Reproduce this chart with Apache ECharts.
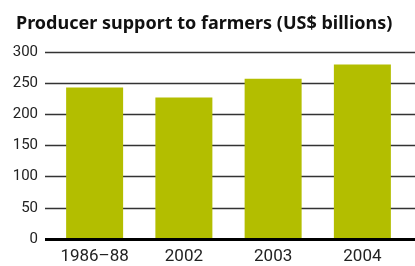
<!DOCTYPE html>
<html>
<head>
<meta charset="utf-8">
<script src="https://cdn.jsdelivr.net/npm/echarts@6/dist/echarts.min.js"></script>
<style>
html,body{margin:0;padding:0;background:#fff;}
#chart{width:415px;height:266px;}
</style>
</head>
<body>
<div id="chart"></div>
<script>
var categories = ['1986–88', '2002', '2003', '2004'];
var support = [243, 227, 257, 280];
var yTicks = [0, 50, 100, 150, 200, 250, 300];

var chart = echarts.init(document.getElementById('chart'));
var option = {
    animation: false,
    title: {
        text: 'Producer support to farmers (US$ billions)',
        left: 11,
        top: 10,
        textStyle: {
            fontFamily: 'Noto Sans',
            fontWeight: 'bold',
            fontSize: 18,
            color: '#111'
        }
    },
    // grid 0 carries gridlines and y labels, grid 1 carries the bars
    grid: [
        {left: 45, right: 0, top: 52, bottom: 27},
        {left: 50, right: 8, top: 52, bottom: 27}
    ],
    xAxis: [{
        gridIndex: 0,
        type: 'category',
        data: categories,
        show: false
    }, {
        gridIndex: 1,
        type: 'category',
        data: categories,
        axisLine: {show: false},
        axisTick: {show: false},
        axisLabel: {
            fontFamily: 'Roboto',
            fontSize: 17,
            color: '#222',
            margin: 9
        }
    }],
    yAxis: [{
        gridIndex: 0,
        type: 'value',
        min: yTicks[0],
        max: yTicks[yTicks.length - 1],
        interval: 50,
        axisLine: {show: false},
        axisTick: {show: false},
        axisLabel: {
            fontFamily: 'Roboto',
            fontSize: 15,
            color: '#222',
            margin: 7
        },
        splitLine: {lineStyle: {color: '#333', width: 1.3}}
    }, {
        gridIndex: 1,
        type: 'value',
        min: yTicks[0],
        max: yTicks[yTicks.length - 1],
        interval: 50,
        show: false
    }],
    series: [{
        type: 'bar',
        xAxisIndex: 1,
        yAxisIndex: 1,
        data: support,
        barWidth: 57,
        itemStyle: {color: '#b3be00'}
    }, {
        // baseline drawn as a line across grid 0
        type: 'line',
        xAxisIndex: 0,
        yAxisIndex: 0,
        data: [],
        markLine: {
            silent: true,
            symbol: 'none',
            label: {show: false},
            lineStyle: {color: '#000', width: 3, type: 'solid'},
            data: [{yAxis: 0}]
        }
    }]
};
chart.setOption(option);
</script>
</body>
</html>
